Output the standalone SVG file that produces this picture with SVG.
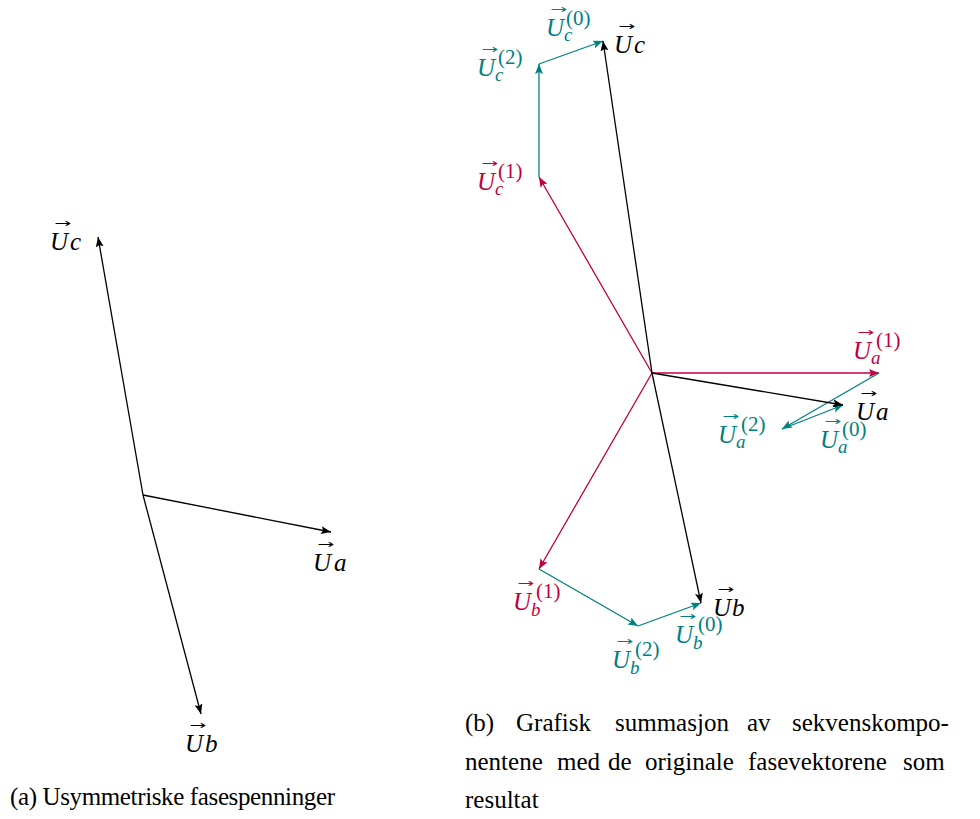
<svg xmlns="http://www.w3.org/2000/svg" width="980" height="819" viewBox="0 0 980 819">
<style>
.k{stroke:#000;stroke-width:1.3;fill:none}
.t{stroke:#008080;stroke-width:1.3;fill:none}
.r{stroke:#bf0040;stroke-width:1.3;fill:none}
.U{font-family:'Liberation Serif',serif;font-style:italic;font-size:25px}
.v{font-family:'DejaVu Sans',sans-serif;font-size:12px;font-style:normal}
.sup{font-family:'Liberation Serif',serif;font-size:21px;font-style:normal}
.sub{font-family:'Liberation Serif',serif;font-size:19px;font-style:italic}
.cap{font-family:'Liberation Serif',serif;font-size:25px;fill:#000}
.kc{fill:#000}.tc{fill:#008080}.rc{fill:#bf0040}
</style>
<defs>
<marker id="ak" markerUnits="userSpaceOnUse" markerWidth="12" markerHeight="10" refX="10" refY="4" orient="auto"><path d="M0,0 L10,4 L0,8 L2,4 Z" fill="#000"/></marker>
<marker id="at" markerUnits="userSpaceOnUse" markerWidth="12" markerHeight="10" refX="10" refY="4" orient="auto"><path d="M0,0 L10,4 L0,8 L2,4 Z" fill="#008080"/></marker>
<marker id="ar" markerUnits="userSpaceOnUse" markerWidth="12" markerHeight="10" refX="10" refY="4" orient="auto"><path d="M0,0 L10,4 L0,8 L2,4 Z" fill="#bf0040"/></marker>
</defs>
<g id="connectors">
<line class="k" x1="143" y1="495" x2="331" y2="532" marker-end="url(#ak)"/>
<line class="k" x1="143" y1="495" x2="201" y2="714" marker-end="url(#ak)"/>
<line class="k" x1="143" y1="495" x2="98" y2="237" marker-end="url(#ak)"/>
<line class="r" x1="652" y1="373" x2="879" y2="373" marker-end="url(#ar)"/>
<line class="r" x1="652" y1="373" x2="539" y2="177" marker-end="url(#ar)"/>
<line class="r" x1="652" y1="373" x2="539" y2="569" marker-end="url(#ar)"/>
<line class="t" x1="879" y1="373" x2="782" y2="429" marker-end="url(#at)"/>
<line class="t" x1="782" y1="429" x2="843" y2="405" marker-end="url(#at)"/>
<line class="t" x1="539" y1="177" x2="539" y2="64" marker-end="url(#at)"/>
<line class="t" x1="539" y1="64" x2="603" y2="41" marker-end="url(#at)"/>
<line class="t" x1="539" y1="569" x2="638" y2="626" marker-end="url(#at)"/>
<line class="t" x1="638" y1="626" x2="701" y2="603" marker-end="url(#at)"/>
<line class="k" x1="652" y1="373" x2="843" y2="405" marker-end="url(#ak)"/>
<line class="k" x1="652" y1="373" x2="603" y2="41" marker-end="url(#ak)"/>
<line class="k" x1="652" y1="373" x2="701" y2="603" marker-end="url(#ak)"/>
</g>
<g id="left-Uc" class="kc"><text class="U"><tspan class="v" x="54" y="227" textLength="17" lengthAdjust="spacingAndGlyphs">→</tspan><tspan x="50" y="250">U</tspan><tspan x="70" y="250">c</tspan></text></g>
<g id="left-Ua" class="kc"><text class="U"><tspan class="v" x="317" y="548" textLength="17" lengthAdjust="spacingAndGlyphs">→</tspan><tspan x="313" y="571">U</tspan><tspan x="334" y="571">a</tspan></text></g>
<g id="left-Ub" class="kc"><text class="U"><tspan class="v" x="189" y="729" textLength="17" lengthAdjust="spacingAndGlyphs">→</tspan><tspan x="185" y="752">U</tspan><tspan x="205" y="752">b</tspan></text></g>
<g id="right-Uc" class="kc"><text class="U"><tspan class="v" x="618" y="30" textLength="17" lengthAdjust="spacingAndGlyphs">→</tspan><tspan x="614" y="53">U</tspan><tspan x="634" y="53">c</tspan></text></g>
<g id="right-Ua" class="kc"><text class="U"><tspan class="v" x="860" y="397" textLength="17" lengthAdjust="spacingAndGlyphs">→</tspan><tspan x="856" y="420">U</tspan><tspan x="876" y="420">a</tspan></text></g>
<g id="right-Ub" class="kc"><text class="U"><tspan class="v" x="717" y="593" textLength="17" lengthAdjust="spacingAndGlyphs">→</tspan><tspan x="713" y="616">U</tspan><tspan x="732" y="616">b</tspan></text></g>
<g id="Uc0" class="tc"><text class="U"><tspan class="v" x="550" y="13" textLength="17" lengthAdjust="spacingAndGlyphs">→</tspan><tspan x="546" y="36">U</tspan><tspan class="sup" x="566" y="25">(0)</tspan><tspan class="sub" x="564" y="41">c</tspan></text></g>
<g id="Uc2" class="tc"><text class="U"><tspan class="v" x="481" y="53" textLength="17" lengthAdjust="spacingAndGlyphs">→</tspan><tspan x="477" y="76">U</tspan><tspan class="sup" x="498" y="64">(2)</tspan><tspan class="sub" x="495" y="81">c</tspan></text></g>
<g id="Uc1" class="rc"><text class="U"><tspan class="v" x="481" y="167" textLength="17" lengthAdjust="spacingAndGlyphs">→</tspan><tspan x="477" y="190">U</tspan><tspan class="sup" x="498" y="178">(1)</tspan><tspan class="sub" x="495" y="195">c</tspan></text></g>
<g id="Ua1" class="rc"><text class="U"><tspan class="v" x="857" y="336" textLength="17" lengthAdjust="spacingAndGlyphs">→</tspan><tspan x="853" y="359">U</tspan><tspan class="sup" x="876" y="347">(1)</tspan><tspan class="sub" x="871" y="364">a</tspan></text></g>
<g id="Ua2" class="tc"><text class="U"><tspan class="v" x="722" y="420" textLength="17" lengthAdjust="spacingAndGlyphs">→</tspan><tspan x="718" y="443">U</tspan><tspan class="sup" x="741" y="431">(2)</tspan><tspan class="sub" x="736" y="448">a</tspan></text></g>
<g id="Ua0" class="tc"><text class="U"><tspan class="v" x="824" y="425" textLength="17" lengthAdjust="spacingAndGlyphs">→</tspan><tspan x="820" y="448">U</tspan><tspan class="sup" x="842" y="436">(0)</tspan><tspan class="sub" x="838" y="453">a</tspan></text></g>
<g id="Ub1" class="rc"><text class="U"><tspan class="v" x="517" y="587" textLength="17" lengthAdjust="spacingAndGlyphs">→</tspan><tspan x="513" y="610">U</tspan><tspan class="sup" x="536" y="598">(1)</tspan><tspan class="sub" x="531" y="616">b</tspan></text></g>
<g id="Ub2" class="tc"><text class="U"><tspan class="v" x="616" y="645" textLength="17" lengthAdjust="spacingAndGlyphs">→</tspan><tspan x="612" y="668">U</tspan><tspan class="sup" x="635" y="656">(2)</tspan><tspan class="sub" x="630" y="674">b</tspan></text></g>
<g id="Ub0" class="tc"><text class="U"><tspan class="v" x="679" y="620" textLength="17" lengthAdjust="spacingAndGlyphs">→</tspan><tspan x="675" y="643">U</tspan><tspan class="sup" x="698" y="631">(0)</tspan><tspan class="sub" x="693" y="649">b</tspan></text></g>
<g id="captions">
<text class="cap" y="731"><tspan x="465">(b)</tspan><tspan x="516">Grafisk</tspan><tspan x="615">summasjon</tspan><tspan x="747">av</tspan><tspan x="792">sekvenskompo-</tspan></text>
<text class="cap" y="770"><tspan x="465">nentene</tspan><tspan x="557">med</tspan><tspan x="608">de</tspan><tspan x="645">originale</tspan><tspan x="748">fasevektorene</tspan><tspan x="903">som</tspan></text>
<text class="cap" x="465" y="808">resultat</text>
<text class="cap" x="10" y="805" textLength="325">(a) Usymmetriske fasespenninger</text>
</g>
</svg>
